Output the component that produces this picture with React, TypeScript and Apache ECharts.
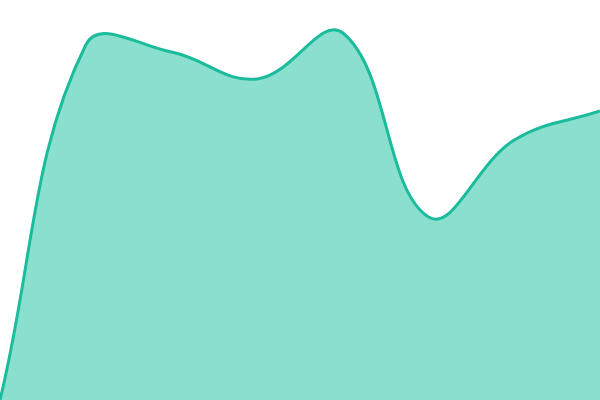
import { useEffect, useRef } from 'react'
import * as echarts from 'echarts'

const categories = ['1', '2', '3', '4', '5', '6', '7', '8']
const values = [0, 355, 348, 321, 367, 183, 260, 289]

const lineColor = '#1abc9c'
const fillColor = '#8adfce'
const tension = 0.4

// cardinal-ish spline through the pixel points
function buildPaths(pts: number[][], bottom: number) {
  const n = pts.length
  const cps: { prev: number[]; next: number[] }[] = []
  for (let i = 0; i < n; i++) {
    const cur = pts[i]
    const prev = i > 0 ? pts[i - 1] : cur
    const next = i < n - 1 ? pts[i + 1] : cur
    const d01 = Math.hypot(cur[0] - prev[0], cur[1] - prev[1])
    const d12 = Math.hypot(next[0] - cur[0], next[1] - cur[1])
    const s01 = d01 + d12 ? d01 / (d01 + d12) : 0
    const s12 = d01 + d12 ? d12 / (d01 + d12) : 0
    const fa = tension * s01
    const fb = tension * s12
    cps.push({
      prev: [cur[0] - fa * (next[0] - prev[0]), cur[1] - fa * (next[1] - prev[1])],
      next: [cur[0] + fb * (next[0] - prev[0]), cur[1] + fb * (next[1] - prev[1])]
    })
  }
  let d = `M${pts[0][0]},${pts[0][1]}`
  for (let i = 1; i < n; i++) {
    const a = cps[i - 1].next
    const b = cps[i].prev
    d += ` C${a[0]},${a[1]} ${b[0]},${b[1]} ${pts[i][0]},${pts[i][1]}`
  }
  const fill = `${d} L${pts[n - 1][0]},${bottom} L${pts[0][0]},${bottom} Z`
  return { line: d, fill }
}

function App() {
  const chartRef = useRef<HTMLDivElement>(null)

  useEffect(() => {
    if (!chartRef.current) return
    const chart = echarts.init(chartRef.current, undefined, { renderer: 'svg' })
    chart.setOption({
      animation: false,
      grid: { left: 0, right: 0, top: 0, bottom: 0 },
      xAxis: {
        type: 'category',
        data: categories,
        boundaryGap: false,
        show: false
      },
      yAxis: {
        type: 'value',
        min: 0,
        max: 400,
        show: false
      },
      series: [
        {
          type: 'custom',
          data: values.map((v, i) => [i, v]),
          encode: { x: 0, y: 1 },
          clip: true,
          renderItem: (params: any, api: any) => {
            if (params.dataIndex !== 0) return null
            const pts = values.map((v, i) => api.coord([i, v]))
            const bottom = api.coord([0, 0])[1]
            const paths = buildPaths(pts, bottom)
            return {
              type: 'group',
              children: [
                {
                  type: 'path',
                  shape: { pathData: paths.fill },
                  style: { fill: fillColor, stroke: 'none' }
                },
                {
                  type: 'path',
                  shape: { pathData: paths.line },
                  style: { fill: 'none', stroke: lineColor, lineWidth: 3 }
                }
              ]
            }
          }
        }
      ]
    })
    return () => {
      chart.dispose()
    }
  }, [])

  return (
    <div
      ref={chartRef}
      style={{ position: 'fixed', left: 0, top: 0, width: '600px', height: '400px' }}
    />
  )
}

export default App
